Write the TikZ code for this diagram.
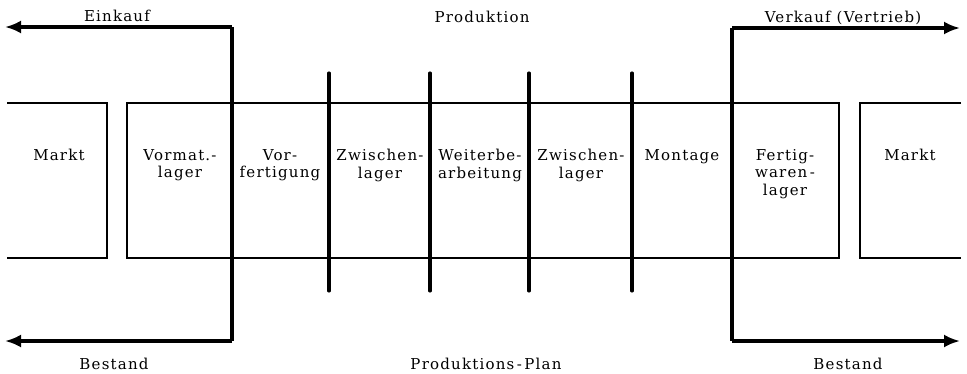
\documentclass[tikz,border=0pt]{standalone}
\usepackage{fontspec}
\setmainfont{DejaVu Serif}[LetterSpace=8]
\usetikzlibrary{arrows.meta}
\begin{document}
\begin{tikzpicture}[x=1pt,y=-1pt,
  thin line/.style={line width=1.5pt},
  thick line/.style={line width=3.1pt},
  flow/.style={thick line,-{Latex[length=16pt,width=13pt]}},
  lbl/.style={font=\fontsize{15}{17.5}\selectfont,align=center,inner sep=0pt},
  divider/.style={thick line, line cap=round}]
\useasboundingbox (0,0) rectangle (967,373);
% boxes
\draw[thin line] (7,103) -- (107,103) -- (107,258) -- (7,258);
\draw[thin line] (839,103) -- (127,103) -- (127,258) -- (839,258) -- cycle;
\draw[thin line] (961,103) -- (860,103) -- (860,258) -- (961,258);
% dividers
\foreach \x/\n in {329/d1,430/d2,529/d3,632/d4}{
  \coordinate (\n t) at (\x,73);
  \coordinate (\n b) at (\x,291);
  \draw[divider] (\n t) -- (\n b);
}
% thick flow lines
\coordinate (lt) at (232,27);
\coordinate (lb) at (232,341);
\coordinate (ltend) at (5,27);
\coordinate (lbend) at (5,341);
\coordinate (rt) at (732,28);
\coordinate (rb) at (732,341);
\coordinate (rtend) at (960,28);
\coordinate (rbend) at (960,341);
\draw[thick line] (lt) -- (lb);
\draw[flow] (lt) -- (ltend);
\draw[flow] (lb) -- (lbend);
\draw[thick line] (rt) -- (rb);
\draw[flow] (rt) -- (rtend);
\draw[flow] (rb) -- (rbend);
% labels
\node[lbl] (einkauf) at (117,16) {Einkauf};
\node[lbl] (produktion) at (482,17) {Produktion};
\node[lbl] (verkauf) at (843,18) {Verkauf (Vertrieb)};
\node[lbl] (bestandl) at (114,364) {Bestand};
\node[lbl] (plan) at (486,364) {Produktions\,-\,Plan};
\node[lbl] (bestandr) at (848,364) {Bestand};
\node[lbl,anchor=north] (marktl) at (59,149) {Markt};
\node[lbl,anchor=north] (vormat) at (180,149) {Vormat.-\\lager};
\node[lbl,anchor=north] (vorf) at (280,149) {Vor-\\fertigung};
\node[lbl,anchor=north] (zw1) at (380,149) {Zwischen-\\lager};
\node[lbl,anchor=north] (weiter) at (480,149) {Weiterbe-\\arbeitung};
\node[lbl,anchor=north] (zw2) at (581,149) {Zwischen-\\lager};
\node[lbl,anchor=north] (montage) at (682,149) {Montage};
\node[lbl,anchor=north] (fertig) at (785,149) {Fertig-\\waren\,-\\lager};
\node[lbl,anchor=north] (marktr) at (910,149) {Markt};
\end{tikzpicture}
\end{document}
